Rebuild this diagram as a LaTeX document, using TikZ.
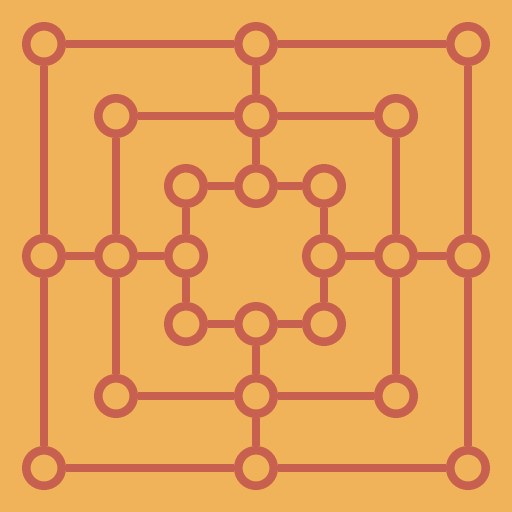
\documentclass[tikz,border=0pt]{standalone}
\definecolor{bg}{RGB}{240,179,90}
\definecolor{ln}{RGB}{199,96,78}
\begin{document}
\begin{tikzpicture}[x=1pt,y=-1pt,
  pt/.style={circle,draw=ln,fill=bg,line width=8.5pt,minimum size=35.5pt,inner sep=0pt},
  ed/.style={draw=ln,line width=7.5pt}]
\fill[bg] (0,0) rectangle (512,512);
\useasboundingbox (0,0) rectangle (512,512);
% outer
\node[pt] (o1) at (44,44) {};
\node[pt] (o2) at (256,44) {};
\node[pt] (o3) at (468,44) {};
\node[pt] (o4) at (468,256) {};
\node[pt] (o5) at (468,468) {};
\node[pt] (o6) at (256,468) {};
\node[pt] (o7) at (44,468) {};
\node[pt] (o8) at (44,256) {};
% middle
\node[pt] (m1) at (116,116) {};
\node[pt] (m2) at (256,116) {};
\node[pt] (m3) at (396,116) {};
\node[pt] (m4) at (396,256) {};
\node[pt] (m5) at (396,396) {};
\node[pt] (m6) at (256,396) {};
\node[pt] (m7) at (116,396) {};
\node[pt] (m8) at (116,256) {};
% inner
\node[pt] (i1) at (186,186) {};
\node[pt] (i2) at (256,186) {};
\node[pt] (i3) at (324,186) {};
\node[pt] (i4) at (324,256) {};
\node[pt] (i5) at (324,324) {};
\node[pt] (i6) at (256,324) {};
\node[pt] (i7) at (186,324) {};
\node[pt] (i8) at (186,256) {};
\foreach \p in {o,m,i}{
  \path[ed] (\p1)--(\p2) (\p2)--(\p3) (\p3)--(\p4) (\p4)--(\p5)
            (\p5)--(\p6) (\p6)--(\p7) (\p7)--(\p8) (\p8)--(\p1);
}
\path[ed] (o2)--(m2) (m2)--(i2) (o4)--(m4) (m4)--(i4)
          (o6)--(m6) (m6)--(i6) (o8)--(m8) (m8)--(i8);
\end{tikzpicture}
\end{document}
